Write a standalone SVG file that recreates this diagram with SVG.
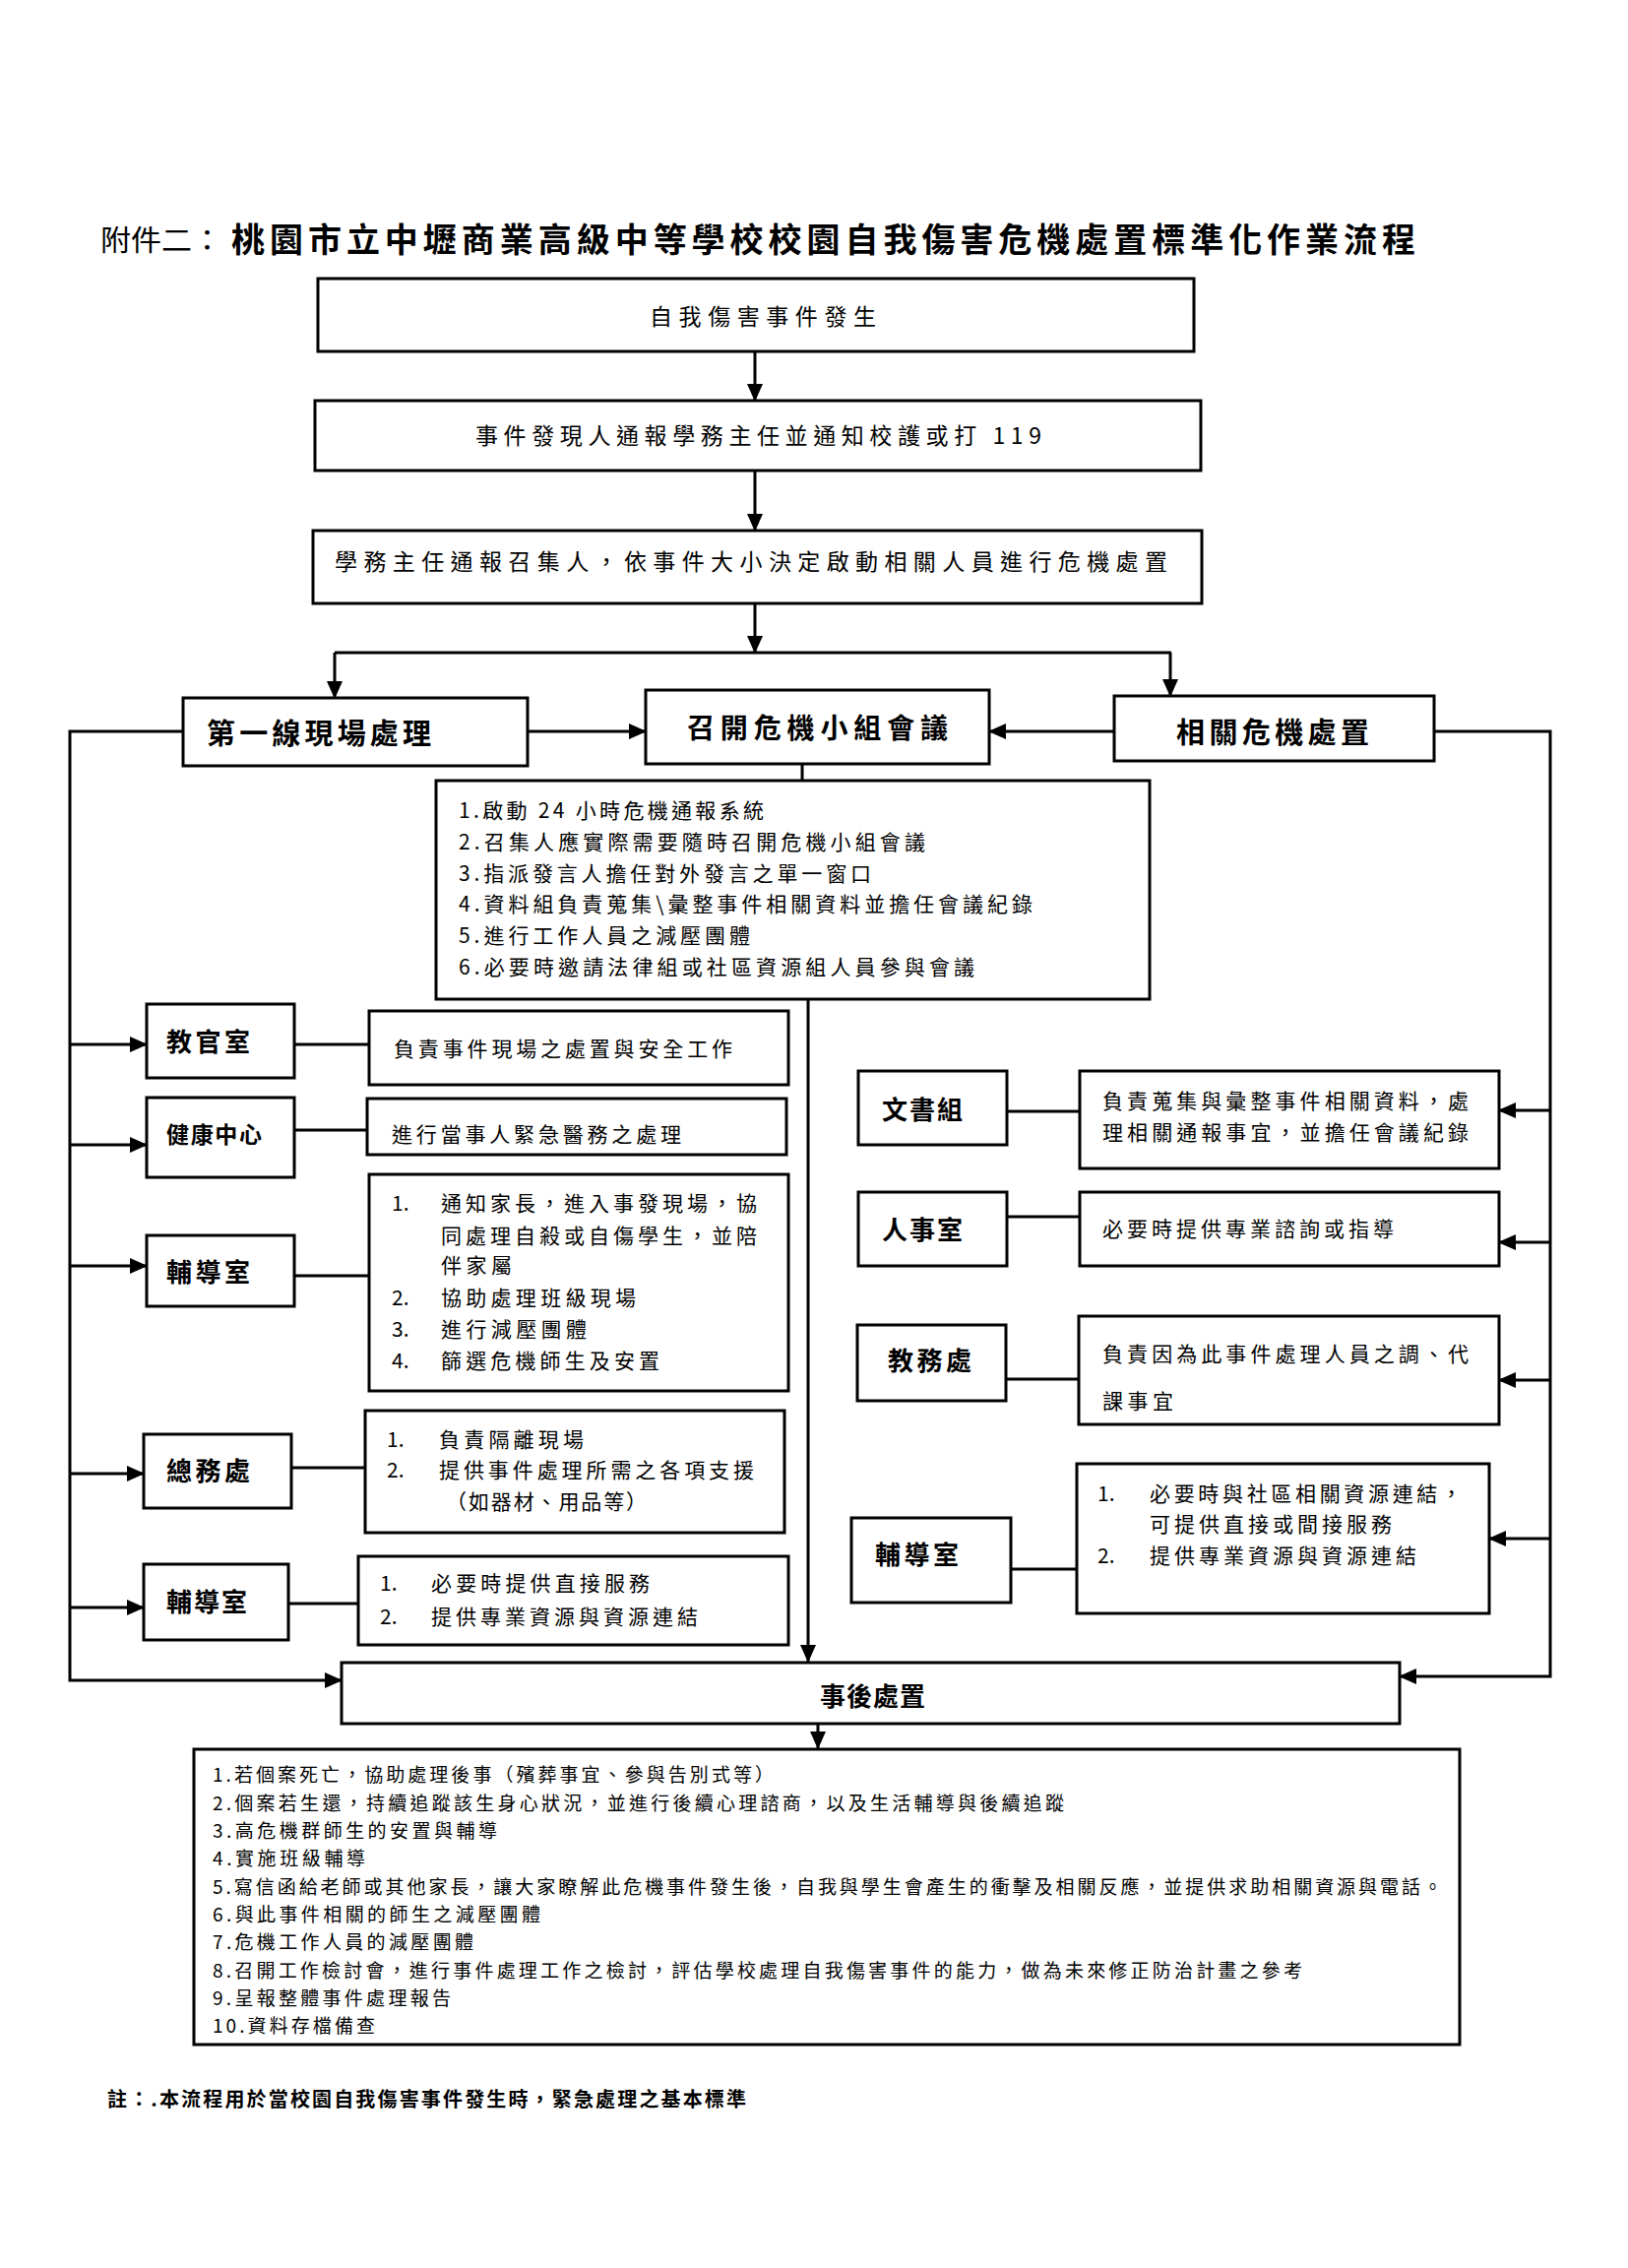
<svg xmlns="http://www.w3.org/2000/svg" width="1654" height="2304" viewBox="0 0 1654 2304">
<style>
text{font-family:"Noto Sans CJK TC","Noto Sans CJK SC",sans-serif;fill:#000}
.b{fill:#fff;stroke:#000;stroke-width:3}
.h{font-weight:bold}
.t22{font-size:23px}
.t20{font-size:21px}
.t19{font-size:19px}
.c{fill:none;stroke:#000;stroke-width:3}
</style>
<defs>
<marker id="ar" markerUnits="userSpaceOnUse" markerWidth="20" markerHeight="18" refX="17" refY="8" orient="auto">
<path d="M0,0 L18,8 L0,16 z" fill="#000"/>
</marker>
</defs>
<rect width="1654" height="2304" fill="#fff"/>
<g id="title">
<text x="102" y="255" font-size="29" textLength="124" lengthAdjust="spacingAndGlyphs">附件二：</text>
<text x="235" y="256" font-size="34" class="h" textLength="1203" lengthAdjust="spacing">桃園市立中壢商業高級中等學校校園自我傷害危機處置標準化作業流程</text>
</g>
<g id="connectors">
<path class="c" d="M767,357 V407" marker-end="url(#ar)"/>
<path class="c" d="M767,478 V539" marker-end="url(#ar)"/>
<path class="c" d="M767,613 V663" marker-end="url(#ar)"/>
<path class="c" d="M340,663 H1190"/>
<path class="c" d="M340,663 V709" marker-end="url(#ar)"/>
<path class="c" d="M1189,663 V707" marker-end="url(#ar)"/>
<path class="c" d="M536,743 H656" marker-end="url(#ar)"/>
<path class="c" d="M1132,743 H1005" marker-end="url(#ar)"/>
<path class="c" d="M815,776 V793"/>
<path class="c" d="M186,743 H71 V1707 H347" marker-end="url(#ar)"/>
<path class="c" d="M71,1061 H149" marker-end="url(#ar)"/>
<path class="c" d="M71,1163 H149" marker-end="url(#ar)"/>
<path class="c" d="M71,1286 H149" marker-end="url(#ar)"/>
<path class="c" d="M71,1497 H146" marker-end="url(#ar)"/>
<path class="c" d="M71,1633 H146" marker-end="url(#ar)"/>
<path class="c" d="M299,1061 H375"/>
<path class="c" d="M299,1148 H373"/>
<path class="c" d="M299,1296 H375"/>
<path class="c" d="M296,1491 H371"/>
<path class="c" d="M293,1629 H364"/>
<path class="c" d="M1457,743 H1575 V1703 H1422" marker-end="url(#ar)"/>
<path class="c" d="M1575,1128 H1523" marker-end="url(#ar)"/>
<path class="c" d="M1575,1262 H1523" marker-end="url(#ar)"/>
<path class="c" d="M1575,1402 H1523" marker-end="url(#ar)"/>
<path class="c" d="M1575,1563 H1513" marker-end="url(#ar)"/>
<path class="c" d="M1023,1129 H1097"/>
<path class="c" d="M1023,1236 H1097"/>
<path class="c" d="M1022,1401 H1096"/>
<path class="c" d="M1027,1594 H1094"/>
<path class="c" d="M821,1015 V1688" marker-end="url(#ar)"/>
<path class="c" d="M831,1751 V1776" marker-end="url(#ar)"/>
</g>
<g id="n-start">
<rect class="b" x="323" y="283" width="890" height="74"/>
<text class="t22" x="660" y="330" textLength="230" lengthAdjust="spacing">自我傷害事件發生</text>
</g>
<g id="n-report">
<rect class="b" x="320" y="407" width="900" height="71"/>
<text class="t22" x="483" y="451" textLength="575" lengthAdjust="spacing">事件發現人通報學務主任並通知校護或打 119</text>
</g>
<g id="n-notify">
<rect class="b" x="318" y="539" width="903" height="74"/>
<text class="t22" x="340" y="579" textLength="846" lengthAdjust="spacing">學務主任通報召集人，依事件大小決定啟動相關人員進行危機處置</text>
</g>
<g id="n-first">
<rect class="b" x="186" y="709" width="350" height="69"/>
<text class="h" font-size="29" x="210" y="756" textLength="228" lengthAdjust="spacing">第一線現場處理</text>
</g>
<g id="n-meeting">
<rect class="b" x="656" y="701" width="349" height="75"/>
<text class="h" font-size="28" x="698" y="750" textLength="265" lengthAdjust="spacing">召開危機小組會議</text>
</g>
<g id="n-related">
<rect class="b" x="1132" y="707" width="325" height="66"/>
<text class="h" font-size="29" x="1195" y="755" textLength="196" lengthAdjust="spacing">相關危機處置</text>
</g>
<g id="n-meeting-list">
<rect class="b" x="443" y="793" width="725" height="222"/>
<text class="t20" x="466" y="831" textLength="310" lengthAdjust="spacing">1.啟動 24 小時危機通報系統</text>
<text class="t20" x="466" y="863" textLength="474" lengthAdjust="spacing">2.召集人應實際需要隨時召開危機小組會議</text>
<text class="t20" x="466" y="895" textLength="419" lengthAdjust="spacing">3.指派發言人擔任對外發言之單一窗口</text>
<text class="t20" x="466" y="926" textLength="583" lengthAdjust="spacing">4.資料組負責蒐集\彙整事件相關資料並擔任會議紀錄</text>
<text class="t20" x="466" y="958" textLength="296" lengthAdjust="spacing">5.進行工作人員之減壓團體</text>
<text class="t20" x="466" y="990" textLength="524" lengthAdjust="spacing">6.必要時邀請法律組或社區資源組人員參與會議</text>
</g>
<g id="n-military">
<rect class="b" x="149" y="1020" width="150" height="75"/>
<text class="h" font-size="26" x="169" y="1068" textLength="85" lengthAdjust="spacing">教官室</text>
</g>
<g id="n-military-desc">
<rect class="b" x="375" y="1027" width="426" height="75"/>
<text class="t20" x="400" y="1073" textLength="344" lengthAdjust="spacing">負責事件現場之處置與安全工作</text>
</g>
<g id="n-health">
<rect class="b" x="149" y="1115" width="150" height="81"/>
<text class="h" font-size="23" x="169" y="1161" textLength="97" lengthAdjust="spacing">健康中心</text>
</g>
<g id="n-health-desc">
<rect class="b" x="373" y="1116" width="426" height="57"/>
<text class="t20" x="398" y="1160" textLength="294" lengthAdjust="spacing">進行當事人緊急醫務之處理</text>
</g>
<g id="n-counsel1">
<rect class="b" x="149" y="1255" width="150" height="72"/>
<text class="h" font-size="26" x="169" y="1302" textLength="85" lengthAdjust="spacing">輔導室</text>
</g>
<g id="n-counsel1-desc">
<rect class="b" x="375" y="1193" width="426" height="220"/>
<text class="t20" x="398" y="1230">1.</text>
<text class="t20" x="448" y="1230" textLength="321" lengthAdjust="spacing">通知家長，進入事發現場，協</text>
<text class="t20" x="448" y="1263" textLength="321" lengthAdjust="spacing">同處理自殺或自傷學生，並陪</text>
<text class="t20" x="448" y="1293" textLength="72" lengthAdjust="spacing">伴家屬</text>
<text class="t20" x="398" y="1326">2.</text>
<text class="t20" x="448" y="1326" textLength="198" lengthAdjust="spacing">協助處理班級現場</text>
<text class="t20" x="398" y="1358">3.</text>
<text class="t20" x="448" y="1358" textLength="148" lengthAdjust="spacing">進行減壓團體</text>
<text class="t20" x="398" y="1390">4.</text>
<text class="t20" x="448" y="1390" textLength="222" lengthAdjust="spacing">篩選危機師生及安置</text>
</g>
<g id="n-general">
<rect class="b" x="146" y="1457" width="150" height="75"/>
<text class="h" font-size="26" x="169" y="1504" textLength="85" lengthAdjust="spacing">總務處</text>
</g>
<g id="n-general-desc">
<rect class="b" x="371" y="1433" width="426" height="124"/>
<text class="t20" x="393" y="1470">1.</text>
<text class="t20" x="446" y="1470" textLength="147" lengthAdjust="spacing">負責隔離現場</text>
<text class="t20" x="393" y="1501">2.</text>
<text class="t20" x="446" y="1501" textLength="320" lengthAdjust="spacing">提供事件處理所需之各項支援</text>
<text class="t20" x="453" y="1533" textLength="204" lengthAdjust="spacing">（如器材、用品等）</text>
</g>
<g id="n-counsel2">
<rect class="b" x="146" y="1589" width="147" height="77"/>
<text class="h" font-size="26" x="169" y="1637" textLength="82" lengthAdjust="spacing">輔導室</text>
</g>
<g id="n-counsel2-desc">
<rect class="b" x="364" y="1581" width="437" height="90"/>
<text class="t20" x="386" y="1616">1.</text>
<text class="t20" x="438" y="1616" textLength="222" lengthAdjust="spacing">必要時提供直接服務</text>
<text class="t20" x="386" y="1650">2.</text>
<text class="t20" x="438" y="1650" textLength="271" lengthAdjust="spacing">提供專業資源與資源連結</text>
</g>
<g id="n-docs">
<rect class="b" x="872" y="1088" width="151" height="75"/>
<text class="h" font-size="26" x="896" y="1137" textLength="82" lengthAdjust="spacing">文書組</text>
</g>
<g id="n-docs-desc">
<rect class="b" x="1097" y="1088" width="426" height="99"/>
<text class="t20" x="1120" y="1126" textLength="372" lengthAdjust="spacing">負責蒐集與彙整事件相關資料，處</text>
<text class="t20" x="1120" y="1158" textLength="372" lengthAdjust="spacing">理相關通報事宜，並擔任會議紀錄</text>
</g>
<g id="n-personnel">
<rect class="b" x="872" y="1211" width="151" height="75"/>
<text class="h" font-size="26" x="896" y="1259" textLength="82" lengthAdjust="spacing">人事室</text>
</g>
<g id="n-personnel-desc">
<rect class="b" x="1097" y="1211" width="426" height="75"/>
<text class="t20" x="1120" y="1256" textLength="296" lengthAdjust="spacing">必要時提供專業諮詢或指導</text>
</g>
<g id="n-academic">
<rect class="b" x="871" y="1346" width="151" height="77"/>
<text class="h" font-size="26" x="902" y="1392" textLength="85" lengthAdjust="spacing">教務處</text>
</g>
<g id="n-academic-desc">
<rect class="b" x="1096" y="1337" width="427" height="110"/>
<text class="t20" x="1120" y="1383" textLength="372" lengthAdjust="spacing">負責因為此事件處理人員之調、代</text>
<text class="t20" x="1120" y="1431" textLength="72" lengthAdjust="spacing">課事宜</text>
</g>
<g id="n-counsel3">
<rect class="b" x="865" y="1542" width="162" height="86"/>
<text class="h" font-size="26" x="889" y="1589" textLength="85" lengthAdjust="spacing">輔導室</text>
</g>
<g id="n-counsel3-desc">
<rect class="b" x="1094" y="1487" width="419" height="152"/>
<text class="t20" x="1115" y="1525">1.</text>
<text class="t20" x="1168" y="1525" textLength="317" lengthAdjust="spacing">必要時與社區相關資源連結，</text>
<text class="t20" x="1168" y="1556" textLength="246" lengthAdjust="spacing">可提供直接或間接服務</text>
<text class="t20" x="1115" y="1588">2.</text>
<text class="t20" x="1168" y="1588" textLength="271" lengthAdjust="spacing">提供專業資源與資源連結</text>
</g>
<g id="n-after">
<rect class="b" x="347" y="1689" width="1075" height="62"/>
<text class="h" font-size="26" x="833" y="1733" textLength="107" lengthAdjust="spacing">事後處置</text>
</g>
<g id="n-after-list">
<rect class="b" x="197" y="1777" width="1286" height="300"/>
<text class="t19" x="216" y="1810" textLength="570" lengthAdjust="spacing">1.若個案死亡，協助處理後事（殯葬事宜、參與告別式等）</text>
<text class="t19" x="216" y="1839" textLength="865" lengthAdjust="spacing">2.個案若生還，持續追蹤該生身心狀況，並進行後續心理諮商，以及生活輔導與後續追蹤</text>
<text class="t19" x="216" y="1867" textLength="289" lengthAdjust="spacing">3.高危機群師生的安置與輔導</text>
<text class="t19" x="216" y="1895" textLength="155" lengthAdjust="spacing">4.實施班級輔導</text>
<text class="t19" x="216" y="1924" textLength="1249" lengthAdjust="spacing">5.寫信函給老師或其他家長，讓大家瞭解此危機事件發生後，自我與學生會產生的衝擊及相關反應，並提供求助相關資源與電話。</text>
<text class="t19" x="216" y="1952" textLength="333" lengthAdjust="spacing">6.與此事件相關的師生之減壓團體</text>
<text class="t19" x="216" y="1980" textLength="265" lengthAdjust="spacing">7.危機工作人員的減壓團體</text>
<text class="t19" x="216" y="2009" textLength="1107" lengthAdjust="spacing">8.召開工作檢討會，進行事件處理工作之檢討，評估學校處理自我傷害事件的能力，做為未來修正防治計畫之參考</text>
<text class="t19" x="216" y="2037" textLength="242" lengthAdjust="spacing">9.呈報整體事件處理報告</text>
<text class="t19" x="216" y="2065" textLength="165" lengthAdjust="spacing">10.資料存檔備查</text>
</g>
<g id="note">
<text class="h" font-size="20" x="109" y="2140" textLength="649" lengthAdjust="spacing">註：.本流程用於當校園自我傷害事件發生時，緊急處理之基本標準</text>
</g>
</svg>
